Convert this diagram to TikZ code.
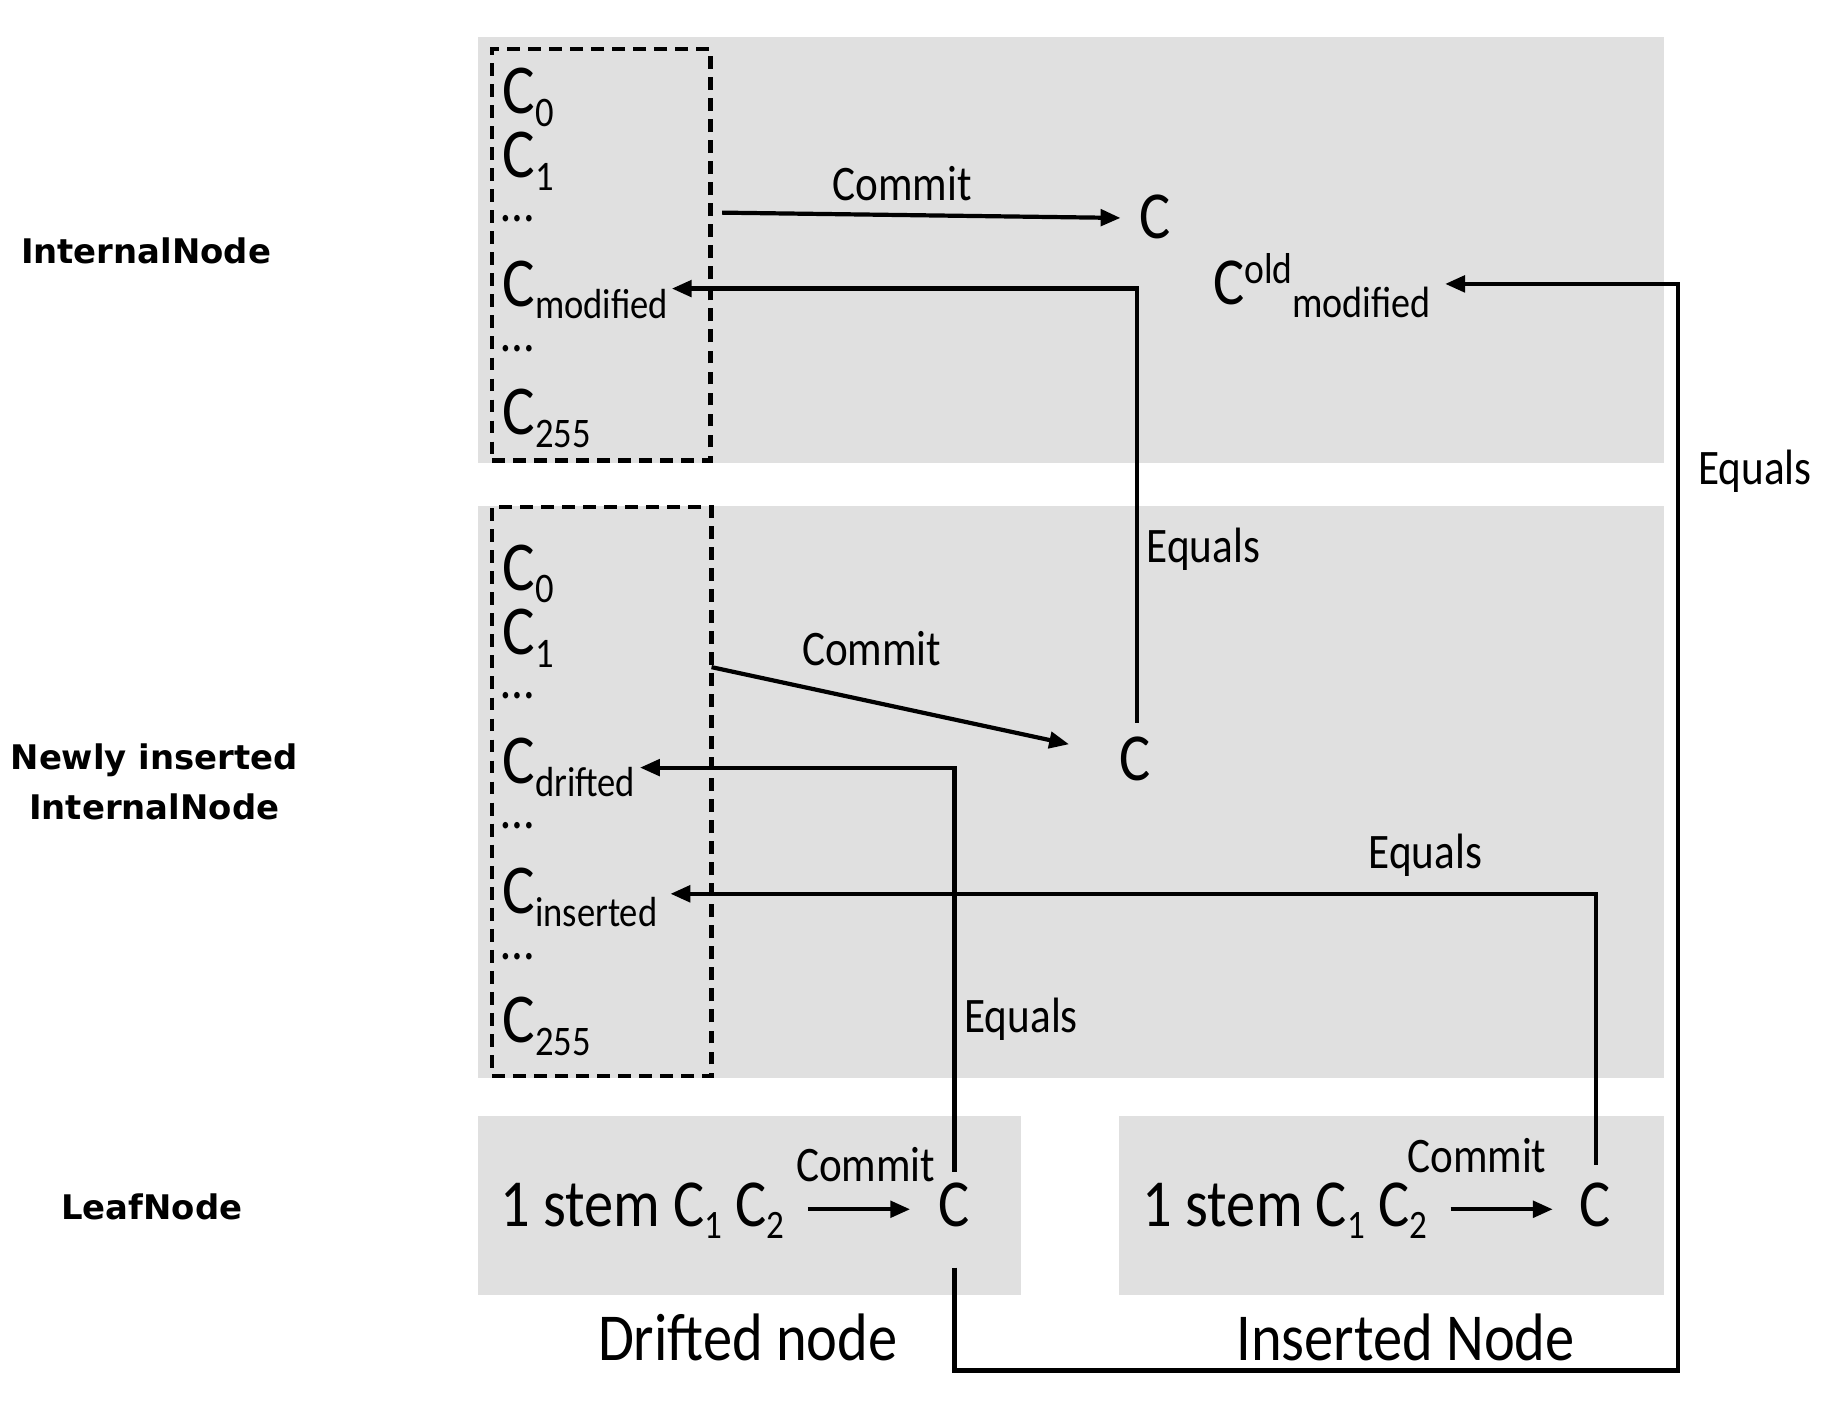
\documentclass[tikz,border=0pt]{standalone}
\usepackage{fontspec}
\setmainfont{Carlito}[FakeStretch=0.87]
\newfontfamily\labfont{DejaVu Sans}
\usetikzlibrary{arrows.meta}
\definecolor{boxgray}{RGB}{224,224,224}
\newcommand\colsub[1]{\raisebox{-11pt}{\fontsize{36}{36}\selectfont #1}}
\newcommand\colsup[1]{\raisebox{18pt}{\fontsize{37}{37}\selectfont #1}}
\newcommand\oldsub[1]{\raisebox{-11pt}{\fontsize{37.5}{37}\selectfont #1}}
\newcommand\leafsub[1]{\raisebox{-10pt}{\fontsize{34.5}{34}\selectfont #1}}
\begin{document}
\begin{tikzpicture}[x=1pt,y=-1pt,
  graybox/.style={fill=boxgray,draw=none},
  colbox/.style={draw,line width=3.8pt,dash pattern=on 11pt off 7pt,inner sep=0},
  conn/.style={line width=3.6pt,-{Triangle[length=17pt,width=14pt]}},
  lbl/.style={font=\fontsize{42.5}{50}\selectfont,inner sep=0},
  colitem/.style={anchor=base west,inner sep=0,font=\fontsize{60}{66}\selectfont},
  dots/.style={anchor=base west,inner sep=0,font=\fontsize{46}{50}\selectfont},
  bigc/.style={anchor=base west,inner sep=0,font=\fontsize{57.5}{66}\selectfont},
  side/.style={font=\labfont\bfseries\fontsize{29}{43}\selectfont,align=center,inner sep=0},
  caption/.style={font=\fontsize{57.5}{66}\selectfont,inner sep=0}]
\useasboundingbox (0,0) rectangle (1568,1222);
% gray panels
\fill[graybox] (409,32) rectangle (1424,396);
\fill[graybox] (409,433) rectangle (1424,923);
\fill[graybox] (409,955) rectangle (874,1108);
\fill[graybox] (958,955) rectangle (1424,1108);
% dashed columns
\node[colbox,minimum width=187pt,minimum height=352pt] (col1) at (514.5,218) {};
\node[colbox,minimum width=188pt,minimum height=487pt] (col2) at (515,677.5) {};
% side labels
\node[side] (lint) at (125,215) {InternalNode};
\node[side] (lnew) at (132,669) {Newly inserted\\InternalNode};
\node[side] (lleaf) at (130,1033) {LeafNode};
% top column
\node[colitem] (t0) at (430,97) {C\colsub{0}};
\node[colitem] (t1) at (430,152) {C\colsub{1}};
\node[dots] (td1) at (429,190) {…};
\node[colitem] (cm) at (430,262) {C\colsub{modified}};
\node[dots] (td2) at (429,301) {…};
\node[colitem] (t255) at (430,372) {C\colsub{255}};
% middle column
\node[colitem] (m0) at (430,505) {C\colsub{0}};
\node[colitem] (m1) at (430,560) {C\colsub{1}};
\node[dots] (md1) at (429,598) {…};
\node[colitem] (cd) at (430,671) {C\colsub{drifted}};
\node[dots] (md2) at (429,709) {…};
\node[colitem] (ci) at (430,782) {C\colsub{inserted}};
\node[dots] (md3) at (429,821) {…};
\node[colitem] (m255) at (430,892) {C\colsub{255}};
% commitments
\node[bigc] (ct) at (975,204) {C};
\node[bigc] (cold) at (1038,261) {C\colsup{old}\oldsub{modified}};
\node[bigc] (cmid) at (958,668) {C};
% leaves
\node[bigc] (sl) at (428,1050) {1 stem C\leafsub{1} C\leafsub{2}};
\node[bigc] (cl) at (803,1050) {C};
\node[bigc] (sr) at (978,1050) {1 stem C\leafsub{1} C\leafsub{2}};
\node[bigc] (cr) at (1352,1050) {C};
\node[caption] (capd) at (640,1145) {Drifted node};
\node[caption] (capi) at (1203,1145) {Inserted Node};
% labels
\node[lbl] (k1) at (772,157) {Commit};
\node[lbl] (k2) at (746,555) {Commit};
\node[lbl] (k3) at (741,997) {Commit};
\node[lbl] (k4) at (1264,989) {Commit};
\node[lbl] (e1) at (1030,470) {Equals};
\node[lbl] (e2) at (1502,403) {Equals};
\node[lbl] (e3) at (874,872) {Equals};
\node[lbl] (e4) at (1220,732) {Equals};
% connectors
\coordinate (s1) at (618,182);
\draw[conn] (s1) -- ([xshift=-16pt,yshift=-1pt]ct.west);
\coordinate (s2) at (609,571);
\draw[conn] (s2) -- (915,637);
\coordinate (b1) at (973,247);
\draw[conn] (cmid.north -| b1) ++(0,-12) -- (b1) -- ([xshift=3pt]cm.east |- b1);
\coordinate (r1) at (817,1173);
\coordinate (r2) at (1436,1173);
\coordinate (r3) at (1436,243);
\draw[conn] (r1 |- 0,1085) -- (r1) -- (r2) -- (r3) -- ([xshift=12pt]cold.east |- r3);
\coordinate (b2) at (817,657);
\draw[conn] (b2 |- 0,1003) -- (b2) -- ([xshift=4pt]cd.east |- b2);
\coordinate (b3) at (1366,765);
\draw[conn] (b3 |- 0,997) -- (b3) -- ([xshift=11pt]ci.east |- b3);
\draw[conn] ([xshift=20pt]sl.east |- 0,1035) -- ([xshift=-24pt]cl.west |- 0,1035);
\draw[conn] ([xshift=20pt]sr.east |- 0,1035) -- ([xshift=-23pt]cr.west |- 0,1035);
\end{tikzpicture}
\end{document}
